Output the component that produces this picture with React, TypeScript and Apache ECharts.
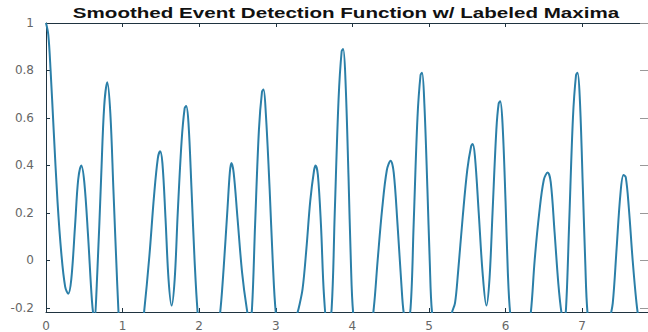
import React, { useEffect, useRef } from "react";
import * as echarts from "echarts";

const titleText = "Smoothed Event Detection Function w/ Labeled Maxima";
const xTicks = [0, 1, 2, 3, 4, 5, 6, 7];
const yTicks = [-0.2, 0, 0.2, 0.4, 0.6, 0.8, 1];

const xs = [
  0, 0.03, 0.06, 0.1, 0.15, 0.2, 0.25, 0.29, 0.33, 0.38, 0.42, 0.46, 0.5, 0.55, 0.6, 0.63,
  0.67, 0.72, 0.76, 0.8, 0.84, 0.88, 0.93, 0.96, 1.0, 1.1, 1.2, 1.28,
  1.35, 1.41, 1.46, 1.49, 1.52, 1.56, 1.6, 1.64, 1.68, 1.72, 1.77, 1.81, 1.83, 1.86, 1.9, 1.94, 1.98,
  2.05, 2.15, 2.24, 2.28, 2.32, 2.37, 2.4, 2.42, 2.45, 2.5, 2.56, 2.62, 2.66, 2.69, 2.73, 2.78, 2.82,
  2.84, 2.87, 2.92, 2.96, 3.0, 3.08, 3.18, 3.26, 3.3, 3.35, 3.4, 3.45, 3.5, 3.52, 3.55, 3.59, 3.63,
  3.68, 3.73, 3.77, 3.82, 3.86, 3.88, 3.91, 3.95, 3.98, 4.01, 4.1, 4.2, 4.28, 4.33, 4.39, 4.45, 4.5,
  4.54, 4.59, 4.64, 4.67, 4.71, 4.76, 4.8, 4.85, 4.89, 4.91, 4.94, 4.98, 5.01, 5.04, 5.12, 5.22, 5.3,
  5.34, 5.38, 5.44, 5.5, 5.55, 5.57, 5.6, 5.65, 5.7, 5.75, 5.79, 5.83, 5.88, 5.91, 5.93, 5.96, 6.0,
  6.03, 6.06, 6.14, 6.25, 6.33, 6.38, 6.44, 6.5, 6.55, 6.59, 6.64, 6.69, 6.73, 6.76, 6.79, 6.83, 6.88,
  6.92, 6.94, 6.97, 7.01, 7.04, 7.07, 7.15, 7.28, 7.36, 7.4, 7.45, 7.5, 7.54, 7.57, 7.61, 7.66, 7.71,
  7.74, 7.8, 7.86,
];
const ys = [
  1.0, 0.95, 0.8, 0.55, 0.25, 0.03, -0.11, -0.14, -0.08, 0.15, 0.34, 0.4, 0.33, 0.1, -0.17, -0.25,
  -0.05, 0.35, 0.65, 0.75, 0.62, 0.3, -0.1, -0.3, -0.5, -0.6, -0.45, -0.22,
  0.02, 0.27, 0.43, 0.46, 0.41, 0.18, -0.08, -0.19, -0.08, 0.2, 0.5, 0.64, 0.65, 0.58, 0.3, 0.0, -0.22,
  -0.45, -0.45, -0.3, -0.2, -0.03, 0.22, 0.37, 0.41, 0.37, 0.18, -0.05, -0.2, -0.26, -0.2, 0.15, 0.55, 0.71,
  0.72, 0.62, 0.3, 0.0, -0.22, -0.42, -0.4, -0.25, -0.2, -0.12, 0.05, 0.25, 0.38, 0.4, 0.36, 0.15, -0.15,
  -0.3, -0.2, 0.2, 0.68, 0.88, 0.89, 0.76, 0.35, 0.0, -0.22, -0.45, -0.4, -0.2, 0.0, 0.22, 0.38, 0.42,
  0.37, 0.15, -0.1, -0.22, -0.27, -0.2, 0.15, 0.6, 0.78, 0.79, 0.66, 0.3, 0.0, -0.22, -0.4, -0.38, -0.22,
  -0.18, -0.05, 0.18, 0.38, 0.48, 0.49, 0.44, 0.2, -0.05, -0.19, -0.08, 0.2, 0.55, 0.66, 0.67, 0.58, 0.25,
  -0.05, -0.22, -0.42, -0.4, -0.22, 0.0, 0.2, 0.34, 0.37, 0.33, 0.12, -0.1, -0.22, -0.26, -0.2, 0.15, 0.6,
  0.78, 0.79, 0.68, 0.3, 0.0, -0.22, -0.42, -0.4, -0.25, -0.18, 0.05, 0.28, 0.36, 0.35, 0.22, 0.0, -0.18,
  -0.25, -0.35, -0.4,
];

export default function App() {
  const ref = useRef<HTMLDivElement>(null);
  useEffect(() => {
    const chart = echarts.init(ref.current!, null, { renderer: "svg" });
    const data = xs.map((x, i) => [x, ys[i]]);
    const axisColor = "#1f3340";
    const labelStyle = {
      color: "#666",
      fontFamily: "DejaVu Sans, Verdana, sans-serif",
      fontSize: 12,
    };
    chart.setOption({
      animation: false,
      backgroundColor: "#fff",
      graphic: [
        {
          type: "text",
          x: 346,
          y: 13,
          scaleX: 1.47,
          originX: 0,
          style: {
            text: titleText,
            fontFamily: "Liberation Sans, Arial, sans-serif",
            fontWeight: "bold",
            fontSize: 14,
            fill: "#111",
            align: "center",
            verticalAlign: "middle",
          },
        },
      ],
      grid: { left: 46, top: 23, width: 603, height: 289, containLabel: false },
      xAxis: [
        {
          type: "value",
          min: 0,
          max: 7.86,
          position: "bottom",
          axisLine: { show: true, onZero: false, lineStyle: { color: axisColor, width: 1 } },
          axisTick: { show: true, inside: true, length: 4, customValues: xTicks, lineStyle: { color: axisColor } },
          axisLabel: { ...labelStyle, customValues: xTicks, margin: 8 },
          splitLine: { show: false },
        },
        {
          type: "value",
          min: 0,
          max: 7.86,
          position: "top",
          axisLine: { show: true, onZero: false, lineStyle: { color: axisColor, width: 1 } },
          axisTick: { show: true, inside: true, length: 4, customValues: xTicks, lineStyle: { color: axisColor } },
          axisLabel: { show: false },
          splitLine: { show: false },
        },
      ],
      yAxis: [
        {
          type: "value",
          min: -0.217,
          max: 1,
          position: "left",
          axisLine: { show: true, onZero: false, lineStyle: { color: axisColor, width: 1 } },
          axisTick: { show: true, inside: true, length: 4, customValues: yTicks, lineStyle: { color: axisColor } },
          axisLabel: { ...labelStyle, customValues: yTicks, margin: 12 },
          splitLine: { show: false },
        },
        {
          type: "value",
          min: -0.217,
          max: 1,
          position: "right",
          axisLine: { show: false, onZero: false },
          axisTick: { show: true, inside: true, length: 8, customValues: yTicks, lineStyle: { color: "#999" } },
          axisLabel: { show: false },
          splitLine: { show: false },
        },
      ],
      series: [
        {
          type: "line",
          data,
          smooth: 0.35,
          showSymbol: false,
          clip: true,
          lineStyle: { color: "#2b7fa8", width: 2 },
        },
      ],
    });
    return () => chart.dispose();
  }, []);
  return (
    <div
      ref={ref}
      style={{ position: "fixed", left: 0, top: 0, width: 648, height: 332, background: "#fff" }}
    />
  );
}
